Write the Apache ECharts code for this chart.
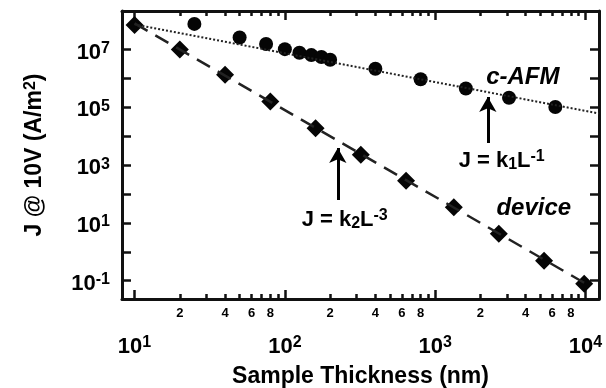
<!DOCTYPE html>
<html><head><meta charset="utf-8">
<script src="https://cdn.jsdelivr.net/npm/echarts@6/dist/echarts.min.js"></script>
<style>html,body{margin:0;padding:0;background:#fff}#c{width:606px;height:388px}</style>
</head><body><div id="c"></div>
<script>
// ---- data ----
const cafmThickness = [25, 50, 75, 100, 125, 150, 175, 200, 400, 800, 1600, 3100, 6300];
const cafmJ = [7.7e7, 2.6e7, 1.55e7, 1.03e7, 7.7e6, 6.4e6, 5.5e6, 4.4e6, 2.15e6, 9.3e5, 4.5e5, 2.15e5, 1.02e5];
const deviceThickness = [10, 20, 40, 80, 160, 320, 640, 1330, 2650, 5300, 9800];
const deviceJ = [7.1e7, 1.0e7, 1.33e6, 1.6e5, 1.9e4, 2.3e3, 2.9e2, 35, 4.2, 0.49, 0.079];
const fitK1Thickness = [10, 12300];
const fitK1J = [7.4e7, 6.1e4];
const fitK2Thickness = [10, 10000];
const fitK2J = [8.0e7, 0.08];
const xMajorTicks = [10, 100, 1000, 10000];
const xMinorTicks = [20, 30, 40, 50, 60, 70, 80, 90, 200, 300, 400, 500, 600, 700, 800, 900, 2000, 3000, 4000, 5000, 6000, 7000, 8000, 9000];
const xMinorLabels = [20, 40, 60, 80, 200, 400, 600, 800, 2000, 4000, 6000, 8000];
const yTicks = [0.1, 1, 10, 100, 1e3, 1e4, 1e5, 1e6, 1e7];
const yLabels = [0.1, 10, 1e3, 1e5, 1e7];
const xRange = [8.25, 12300];
const yRange = [0.0233, 2.15e8];
// annotations: [x, y, text]
const annotTexts = [
  [3830, 1.12e6, '{i|c-AFM}'],
  [4530, 32.8, '{i|device}'],
  [2770, 1390, '{m|J = k}{sub|1}{m|L}{sup|-1}'],
  [250, 12.6, '{m|J = k}{sub|2}{m|L}{sup|-3}']
];
const arrows = [
  [[2240, 5820], [2240, 2.27e5]],
  [[225, 62], [225, 3910]]
];

const FONT = "'Liberation Sans', Arial, Helvetica, sans-serif";
const zip = (a, b) => a.map((v, i) => [v, b[i]]);
const expLabel = v => {
  const e = Math.round(Math.log10(v));
  return '{b|10}{s|' + e + '}';
};
const powRich = {
  b: {fontSize: 22, fontWeight: 'bold', fontFamily: FONT, color: '#000', lineHeight: 24},
  s: {fontSize: 16, fontWeight: 'bold', fontFamily: FONT, color: '#000', lineHeight: 2, verticalAlign: 'top'}
};
const axisLine = {show: true, onZero: false, lineStyle: {color: '#111', width: 3}};

const chart = echarts.init(document.getElementById('c'), null, {renderer: 'canvas'});
const baseX = {type: 'log', logBase: 10, min: xRange[0], max: xRange[1], splitLine: {show: false}, gridIndex: 0};
const baseY = {type: 'log', logBase: 10, min: yRange[0], max: yRange[1], splitLine: {show: false}, gridIndex: 0};

chart.setOption({
  animation: false,
  backgroundColor: '#fff',
  grid: {left: 122, right: 7, top: 11, bottom: 89, containLabel: false, outerBoundsMode: 'none'},
  xAxis: [
    Object.assign({}, baseX, {
      position: 'bottom', axisLine: axisLine,
      axisTick: {show: true, inside: true, length: 9, customValues: xMajorTicks, lineStyle: {width: 2.5, color: '#111'}},
      axisLabel: {show: true, customValues: xMajorTicks, margin: 30, formatter: expLabel, rich: powRich, padding: [6, 0, 0, 0]},
      name: 'Sample Thickness (nm)', nameLocation: 'middle', nameGap: 66,
      nameTextStyle: {fontSize: 23, fontWeight: 'bold', fontFamily: FONT, color: '#000'}
    }),
    Object.assign({}, baseX, {
      position: 'bottom', axisLine: {show: false},
      axisTick: {show: true, inside: true, length: 5, customValues: xMinorTicks, lineStyle: {width: 2.5, color: '#111'}},
      axisLabel: {show: true, customValues: xMinorLabels, margin: 8, fontSize: 13, fontWeight: 'bold', fontFamily: FONT, color: '#000',
        formatter: v => String(Math.round(v / Math.pow(10, Math.floor(Math.log10(v) + 1e-9))))}
    }),
    Object.assign({}, baseX, {
      position: 'top', axisLine: axisLine,
      axisTick: {show: true, inside: true, length: 9, customValues: xMajorTicks, lineStyle: {width: 2.5, color: '#111'}},
      axisLabel: {show: false}
    }),
    Object.assign({}, baseX, {
      position: 'top', axisLine: {show: false},
      axisTick: {show: true, inside: true, length: 5, customValues: xMinorTicks, lineStyle: {width: 2.5, color: '#111'}},
      axisLabel: {show: false}
    })
  ],
  yAxis: [
    Object.assign({}, baseY, {
      position: 'left', axisLine: axisLine,
      axisTick: {show: true, inside: true, length: 9, customValues: yTicks, lineStyle: {width: 2.5, color: '#111'}},
      axisLabel: {show: true, customValues: yLabels, margin: 12, formatter: expLabel, rich: powRich, padding: [6, 0, 0, 0]},
      name: 'J @ 10V (A/m{sup|2})', nameLocation: 'middle', nameGap: 76, nameRotate: 90,
      nameTextStyle: {fontSize: 23, fontWeight: 'bold', fontFamily: FONT, color: '#000',
        rich: {sup: {fontSize: 16, fontWeight: 'bold', fontFamily: FONT, color: '#000', verticalAlign: 'top', lineHeight: 6}}}
    }),
    Object.assign({}, baseY, {
      position: 'right', axisLine: axisLine,
      axisTick: {show: true, inside: true, length: 9, customValues: yTicks, lineStyle: {width: 2.5, color: '#111'}},
      axisLabel: {show: false}
    })
  ],
  series: [
    {name: 'fit k1', type: 'line', data: zip(fitK1Thickness, fitK1J), symbol: 'none', silent: true,
      lineStyle: {color: '#222', width: 2, type: [2, 2]}},
    {name: 'fit k2', type: 'line', data: zip(fitK2Thickness, fitK2J), symbol: 'none', silent: true,
      lineStyle: {color: '#222', width: 2.5, type: [15, 9]}},
    {name: 'c-AFM', type: 'scatter', data: zip(cafmThickness, cafmJ), symbol: 'circle', symbolSize: 14,
      itemStyle: {color: '#050505', opacity: 1}},
    {name: 'device', type: 'scatter', data: zip(deviceThickness, deviceJ), symbol: 'diamond', symbolSize: 18,
      itemStyle: {color: '#050505', opacity: 1}},
    {name: 'annotations', type: 'scatter', symbolSize: 0, silent: true,
      itemStyle: {opacity: 1, color: '#000'},
      data: annotTexts.map(a => ({value: [a[0], a[1]], label: {formatter: a[2]}})),
      label: {show: true, position: 'inside', align: 'center', verticalAlign: 'middle', opacity: 1, color: '#000',
        rich: {
          i: {fontSize: 24, fontWeight: 'bold', fontStyle: 'italic', fontFamily: FONT, color: '#000', lineHeight: 26},
          m: {fontSize: 22, fontWeight: 'bold', fontFamily: FONT, color: '#000', lineHeight: 24},
          sub: {fontSize: 16, fontWeight: 'bold', fontFamily: FONT, color: '#000', lineHeight: 10, verticalAlign: 'bottom'},
          sup: {fontSize: 16, fontWeight: 'bold', fontFamily: FONT, color: '#000', lineHeight: 2, verticalAlign: 'top'}
        }},
      markLine: {silent: true, symbol: ['none', 'arrow'], symbolSize: [13, 15], label: {show: false},
        lineStyle: {color: '#000', width: 3, type: 'solid', opacity: 1},
        data: arrows.map(a => [{coord: a[0]}, {coord: a[1]}])}
    }
  ]
});
</script></body></html>
